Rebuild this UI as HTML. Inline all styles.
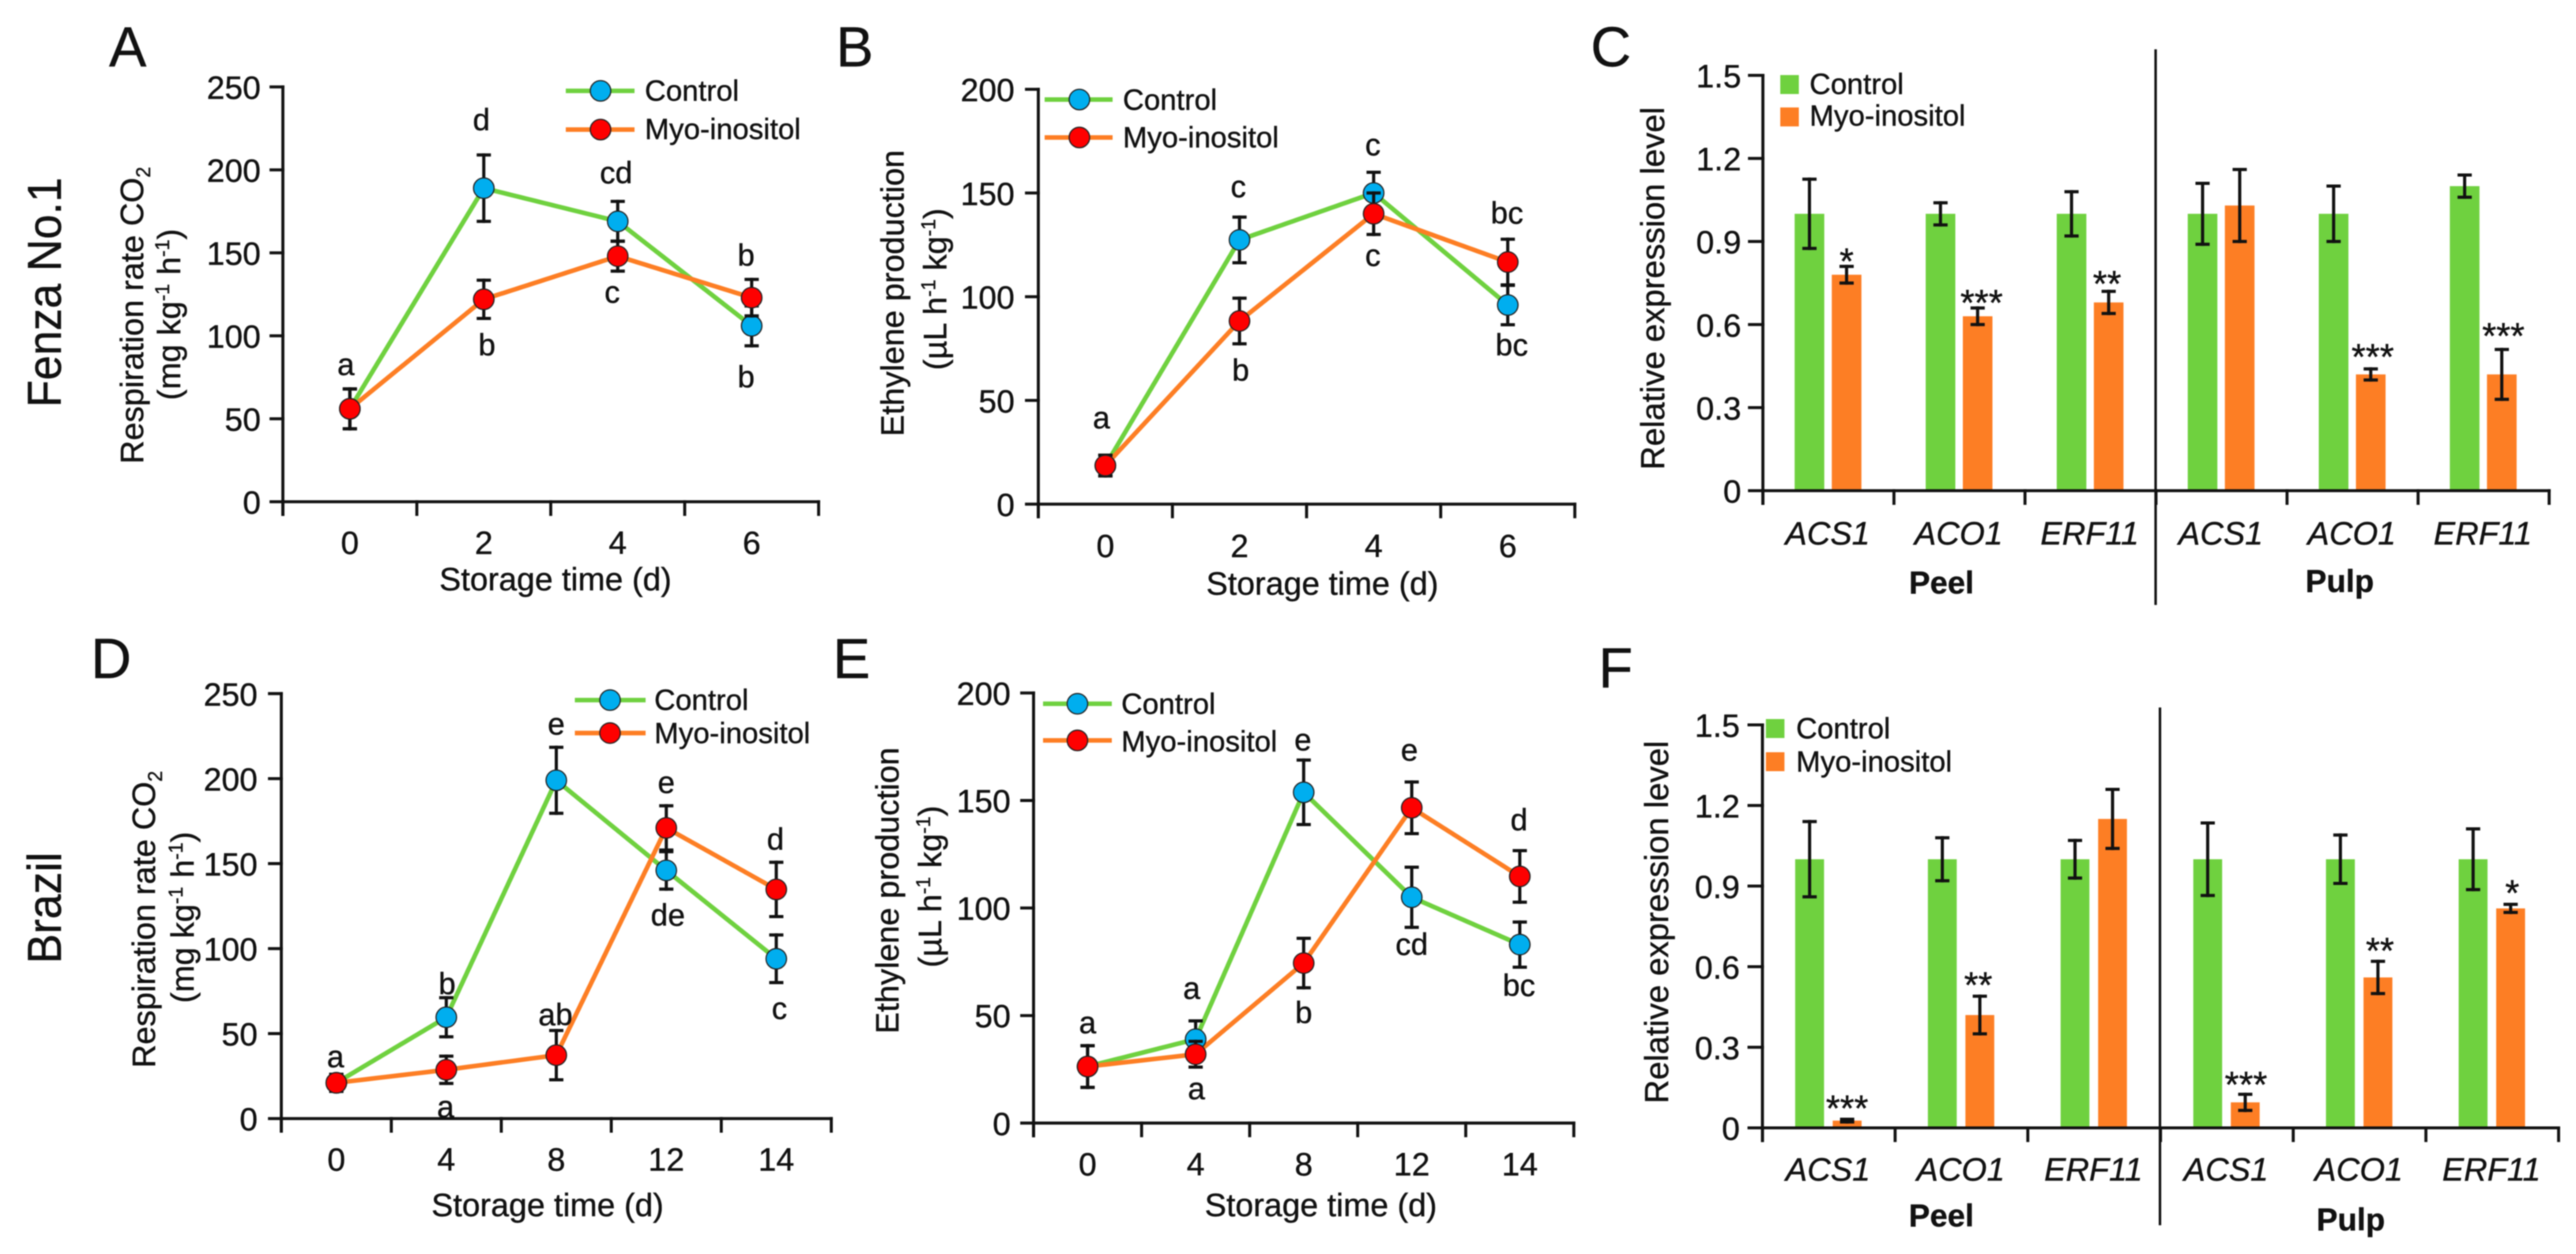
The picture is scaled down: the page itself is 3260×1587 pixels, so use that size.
<!DOCTYPE html>
<html lang="en">
<head>
<meta charset="utf-8">
<title>Respiration, ethylene production and gene expression charts</title>
<style>
html,body{margin:0;padding:0;background:#fff;width:3260px;height:1587px;overflow:hidden}
svg{display:block;filter:blur(0.8px)}
text{font-family:"Liberation Sans",Arial,sans-serif;fill:#111;stroke:#111;stroke-width:.45px}
</style>
</head>
<body>
<svg id="figure" xmlns="http://www.w3.org/2000/svg" width="3260" height="1587" viewBox="0 0 3260 1587"></svg>
<script>
/* ---------- Panel A data ---------- */
const categoriesA = ['0','2','4','6'];
const yTicksA = [0,50,100,150,200,250];
const controlA = [56,189,169,106];
const controlErrA = [12,20,12,12];
const myoA = [56,122,148,123];
const myoErrA = [12,11.5,9,11];
/* ---------- Panel B data ---------- */
const categoriesB = ['0','2','4','6'];
const yTicksB = [0,50,100,150,200];
const controlB = [18.6,127.4,150,96];
const controlErrB = [5,11,10,9.5];
const myoB = [18.6,88.3,140,116.7];
const myoErrB = [5,11,10,11];
/* ---------- Panel C data ---------- */
const genesC = ['ACS1','ACO1','ERF11','ACS1','ACO1','ERF11'];
const yTicksC = ['0','0.3','0.6','0.9','1.2','1.5'];
const controlC = [1.0,1.0,1.0,1.0,1.0,1.1];
const controlErrC = [0.125,0.04,0.08,0.11,0.10,0.04];
const myoC = [0.78,0.63,0.68,1.03,0.42,0.42];
const myoErrC = [0.03,0.03,0.04,0.13,0.02,0.09];
/* ---------- Panel D data ---------- */
const categoriesD = ['0','4','8','12','14'];
const yTicksD = [0,50,100,150,200,250];
const controlD = [21,59.6,199,146,94];
const controlErrD = [5,11.5,19.4,11,14];
const myoD = [21,28.7,37.3,171,134.8];
const myoErrD = [5,8,14.5,13,16];
/* ---------- Panel E data ---------- */
const categoriesE = ['0','4','8','12','14'];
const yTicksE = [0,50,100,150,200];
const controlE = [26.3,39,153.8,105,83];
const controlErrE = [9.7,8.5,15,14,10.5];
const myoE = [26.3,32,74.4,146.6,114.7];
const myoErrE = [9.7,6,11.5,12,12];
/* ---------- Panel F data ---------- */
const genesF = ['ACS1','ACO1','ERF11','ACS1','ACO1','ERF11'];
const yTicksF = ['0','0.3','0.6','0.9','1.2','1.5'];
const controlF = [1.0,1.0,1.0,1.0,1.0,1.0];
const controlErrF = [0.14,0.08,0.07,0.135,0.09,0.113];
const myoF = [0.027,0.42,1.15,0.095,0.56,0.817];
const myoErrF = [0.005,0.07,0.11,0.03,0.06,0.015];

const NS = 'http://www.w3.org/2000/svg';
const GREEN = '#6fd13f', ORANGE = '#fd7e24', BLUE = '#00aeef', RED = '#fe0000', INK = '#111';
const root = document.getElementById('figure');

function make(parent, tag, props) {
  const e = document.createElementNS(NS, tag);
  for (const k in props) e.setAttribute(k, props[k]);
  parent.appendChild(e);
  return e;
}
function seg(parent, x1, y1, x2, y2, color, w) {
  return make(parent, 'line', {x1, y1, x2, y2, stroke: color, 'stroke-width': w, 'stroke-linecap': 'square'});
}
function label(parent, x, y, str, size, anchor, extra) {
  const t = make(parent, 'text', Object.assign({x, y, 'font-size': size, 'text-anchor': anchor}, extra || {}));
  t.textContent = str;
  return t;
}
/* parts: plain strings, or {sub:'2'} / {sup:'-1'} */
function richLabel(parent, px, py, parts, size) {
  const t = make(parent, 'text', {transform: 'translate(' + px + ' ' + py + ') rotate(-90)', 'font-size': size, 'text-anchor': 'middle'});
  let back = 0;
  parts.forEach(function (p) {
    const s = document.createElementNS(NS, 'tspan');
    if (typeof p === 'string') {
      s.textContent = p;
      if (back) s.setAttribute('dy', back);
      back = 0;
    } else {
      const shift = p.sub ? 9 : -14;
      s.textContent = p.sub || p.sup;
      s.setAttribute('font-size', size * 0.6);
      s.setAttribute('dy', shift + back);
      back = -shift;
    }
    t.appendChild(s);
  });
  return t;
}
function panelLetter(parent, str, x, y) {
  const t = label(parent, x, y, str, 71, 'start');
  
  
}
function errorBar(parent, x, yTop, yBot, cap, w) {
  const g = make(parent, 'g', {});
  seg(g, x, yTop, x, yBot, INK, w);
  seg(g, x - cap, yTop, x + cap, yTop, INK, w);
  seg(g, x - cap, yBot, x + cap, yBot, INK, w);
  return g;
}
function axes(parent, f, tickLabels, yRight, tickLen) {
  const ax = make(parent, 'g', {});
  
  
  const yLine = seg(ax, f.x0, f.yT, f.x0, f.y0 + 16, INK, 3.8);
  
  
  const xLine = seg(ax, f.x0, f.y0, f.x1, f.y0, INK, 3.8);
  
  
  const n = tickLabels.length - 1;
  tickLabels.forEach(function (lab, i) {
    const y = f.y0 - (f.y0 - f.yT) * i / n;
    const tick = seg(ax, f.x0 - tickLen, y, f.x0, y, INK, 3.8);
    
    
    const tl = label(ax, yRight, y + 15, String(lab), 41, 'end');
    
    
  });
  return ax;
}
function xTicks(ax, f, count) {
  for (let i = 0; i <= count; i++) {
    const x = f.x0 + (f.x1 - f.x0) * i / count;
    const tick = seg(ax, x, f.y0, x, f.y0 + 16, INK, 3.8);
    
    
  }
}

function linePanel(id, f, cats, yTicks, control, controlErr, myo, myoErr, t) {
  const g = make(root, 'g', {});
  
  
  const yMax = yTicks[yTicks.length - 1];
  const sx = function (i) { return f.x0 + (i + 0.5) * (f.x1 - f.x0) / cats.length; };
  const sy = function (v) { return f.y0 - v * (f.y0 - f.yT) / yMax; };

  const ax = axes(g, f, yTicks, t.yRight, 15);
  xTicks(ax, f, cats.length);
  cats.forEach(function (c, i) {
    const tl = label(ax, sx(i), t.xBase, c, 41, 'middle');
    
    
  });
  const xTitle = label(g, t.xTitleX, t.xTitleY, 'Storage time (d)', 41, 'middle');
  
  
  const yt1 = richLabel(g, t.y1x, t.y1y, t.title1, 41);
  
  
  const yt2 = richLabel(g, t.y2x, t.y2y, t.title2, 41);
  
  

  const path = function (vals) {
    return vals.map(function (v, i) { return sx(i) + ',' + sy(v); }).join(' ');
  };
  const lc = make(g, 'polyline', {points: path(control), fill: 'none', stroke: GREEN, 'stroke-width': 5.8, 'stroke-linejoin': 'round'});
  
  
  const lm = make(g, 'polyline', {points: path(myo), fill: 'none', stroke: ORANGE, 'stroke-width': 5.8, 'stroke-linejoin': 'round'});
  
  

  control.forEach(function (v, i) {
    const eb = errorBar(g, sx(i), sy(v + controlErr[i]), sy(v - controlErr[i]), 7, 4);
    
    
    const pt = make(g, 'circle', {cx: sx(i), cy: sy(v), r: 13, fill: BLUE, stroke: '#222', 'stroke-width': 1.5});
    
    
  });
  myo.forEach(function (v, i) {
    const eb = errorBar(g, sx(i), sy(v + myoErr[i]), sy(v - myoErr[i]), 7, 4);
    
    
    const pt = make(g, 'circle', {cx: sx(i), cy: sy(v), r: 13, fill: RED, stroke: '#222', 'stroke-width': 1.5});
    
    
  });

  const L = t.legend;
  [['Control', GREEN, BLUE, L.y1, L.b1], ['Myo-inositol', ORANGE, RED, L.y2, L.b2]].forEach(function (r) {
    const lg = make(g, 'g', {});
    
    
    seg(lg, L.x0, r[3], L.x1, r[3], r[1], 5.8).setAttribute('stroke-linecap', 'butt');
    make(lg, 'circle', {cx: L.mx, cy: r[3], r: 13, fill: r[2], stroke: '#222', 'stroke-width': 1.5});
    label(lg, L.tx, r[4], r[0], 37, 'start');
  });

  /* significance letters anchored to their data point */
  t.letters.forEach(function (a) {
    const vals = a[0] === 'c' ? control : myo;
    const lt = label(g, sx(a[1]) + a[3], sy(vals[a[1]]) + a[4], a[2], 39, 'middle');
    
    
  });
}

function barPanel(id, f, genes, yTicks, control, controlErr, myo, myoErr, t) {
  const g = make(root, 'g', {});
  
  
  const yMax = parseFloat(yTicks[yTicks.length - 1]);
  const step = (f.x1 - f.x0) / genes.length;
  const sy = function (v) { return f.y0 - v * (f.y0 - f.yT) / yMax; };
  const bw = t.barW, gap = t.gap;
  const cx = function (i) { return f.x0 + (i + 0.5) * step; };
  const gx = function (i) { return cx(i) - gap / 2 - bw / 2 - 0.5; };
  const mx = function (i) { return cx(i) + gap / 2 + bw / 2 - 0.5; };

  genes.forEach(function (name, i) {
    const b1 = make(g, 'rect', {x: gx(i) - bw / 2, y: sy(control[i]), width: bw, height: f.y0 - sy(control[i]), fill: GREEN});
    
    
    const b2 = make(g, 'rect', {x: mx(i) - bw / 2, y: sy(myo[i]), width: bw, height: f.y0 - sy(myo[i]), fill: ORANGE});
    
    
  });
  const ax = axes(g, f, yTicks, t.yRight, 17);
  xTicks(ax, f, genes.length);
  genes.forEach(function (name, i) {
    const tl = label(ax, cx(i) - 1, t.xBase, name, 41, 'middle', {'font-style': 'italic'});
    
    
  });
  genes.forEach(function (name, i) {
    const e1 = errorBar(g, gx(i), sy(control[i] + controlErr[i]), sy(control[i] - controlErr[i]), 7, 4);
    
    
    const e2 = errorBar(g, mx(i), sy(myo[i] + myoErr[i]), sy(myo[i] - myoErr[i]), 7, 4);
    
    
  });
  t.stars.forEach(function (s) {
    const i = s[0];
    const st = label(g, mx(i) + s[2], sy(myo[i] + myoErr[i]) + s[3], s[1], 46, 'middle');
    
    
  });
  const div = seg(g, t.div, t.divTop, t.div, t.divBot, INK, 3.2);
  
  
  const yt = richLabel(g, t.titleX, t.titleY, ['Relative expression level'], 41.5);
  
  
  const pe = label(g, t.peelX, t.peelY, 'Peel', 40, 'middle', {'font-weight': 'bold'});
  
  
  const pu = label(g, t.pulpX, t.pulpY, 'Pulp', 40, 'middle', {'font-weight': 'bold'});
  
  
  const L = t.legend;
  [['Control', GREEN, L.y1, L.b1], ['Myo-inositol', ORANGE, L.y2, L.b2]].forEach(function (r) {
    const lg = make(g, 'g', {});
    
    
    make(lg, 'rect', {x: L.x, y: r[2], width: 23.5, height: 24, fill: r[1]});
    label(lg, L.tx, r[3], r[0], 37, 'start');
  });
}

/* ---------- panel letters and row labels ---------- */
panelLetter(root, 'A', 138, 84);
panelLetter(root, 'B', 1058, 84);
panelLetter(root, 'C', 2013, 84);
panelLetter(root, 'D', 115, 858);
panelLetter(root, 'E', 1054, 858);
panelLetter(root, 'F', 2023, 870);
const row1 = richLabel(root, 77, 370, ['Fenza No.1'], 60.5);
row1.setAttribute('textLength', '291');
row1.setAttribute('lengthAdjust', 'spacingAndGlyphs');


const row2 = richLabel(root, 77, 1149, ['Brazil'], 60.5);
row2.setAttribute('textLength', '141');
row2.setAttribute('lengthAdjust', 'spacingAndGlyphs');



const respTitle = ['Respiration rate CO', {sub: '2'}];
const respUnit = ['(mg kg', {sup: '-1'}, ' h', {sup: '-1'}, ')'];
const ethTitle = ['Ethylene production'];
const ethUnit = ['(\u00b5L h', {sup: '-1'}, ' kg', {sup: '-1'}, ')'];

linePanel('a', {x0: 358, x1: 1036, y0: 635, yT: 110}, categoriesA, yTicksA, controlA, controlErrA, myoA, myoErrA, {
  yRight: 330, xBase: 701, xTitleX: 703, xTitleY: 747,
  y1x: 181, y1y: 399, title1: respTitle, y2x: 228, y2y: 398, title2: respUnit,
  legend: {x0: 716, x1: 803, mx: 760, tx: 816, y1: 115, b1: 127.5, y2: 164, b2: 176},
  letters: [['c',0,'a',-5,-43],['c',1,'d',-3,-73],['c',2,'cd',-2,-48],['m',3,'b',-7,-40],['m',1,'b',4,71],['m',2,'c',-7,59],['c',3,'b',-7,78]]
});
linePanel('b', {x0: 1314, x1: 1993, y0: 638, yT: 113}, categoriesB, yTicksB, controlB, controlErrB, myoB, myoErrB, {
  yRight: 1284, xBase: 705, xTitleX: 1673.5, xTitleY: 752.5,
  y1x: 1143.5, y1y: 371, title1: ethTitle, y2x: 1197.5, y2y: 366, title2: ethUnit,
  legend: {x0: 1322, x1: 1408, mx: 1366, tx: 1421, y1: 126, b1: 138.8, y2: 174, b2: 186.7},
  letters: [['c',0,'a',-5,-47],['c',1,'c',-1.5,-54],['m',1,'b',1.5,76],['c',2,'c',-1,-48],['m',2,'c',-1,66],['m',3,'bc',-1,-48.7],['c',3,'bc',5,64]]
});
linePanel('d', {x0: 356, x1: 1052, y0: 1415.6, yT: 877.8}, categoriesD, yTicksD, controlD, controlErrD, myoD, myoErrD, {
  yRight: 326, xBase: 1481.5, xTitleX: 693, xTitleY: 1539,
  y1x: 196, y1y: 1163.5, title1: respTitle, y2x: 245, y2y: 1161, title2: respUnit,
  legend: {x0: 727.5, x1: 817, mx: 772, tx: 828, y1: 886, b1: 898.4, y2: 927.7, b2: 940.6},
  letters: [['c',0,'a',-1,-20],['c',1,'b',1,-29],['m',1,'a',-1,60],['c',2,'e',0,-58],['m',2,'ab',-1,-38],['m',3,'e',0,-44],['c',3,'de',2,70],['m',4,'d',-1,-50],['c',4,'c',4,76]]
});
linePanel('e', {x0: 1308, x1: 1991.7, y0: 1421.3, yT: 877}, categoriesE, yTicksE, controlE, controlErrE, myoE, myoErrE, {
  yRight: 1279, xBase: 1487.7, xTitleX: 1671.6, xTitleY: 1539,
  y1x: 1137, y1y: 1127, title1: ethTitle, y2x: 1191, y2y: 1122, title2: ethUnit,
  legend: {x0: 1320, x1: 1407, mx: 1363.5, tx: 1419, y1: 890.6, b1: 903.5, y2: 937, b2: 951},
  letters: [['c',0,'a',0,-42],['c',1,'a',-5,-51],['m',1,'a',1,57],['c',2,'e',-1,-53],['m',2,'b',0,76],['m',3,'e',-3,-60],['c',3,'cd',0,73],['m',4,'d',-1,-58],['c',4,'bc',-1,65]]
});
barPanel('c', {x0: 2231, x1: 3226, y0: 621, yT: 95.4}, genesC, yTicksC, controlC, controlErrC, myoC, myoErrC, {
  yRight: 2203.5, xBase: 689, barW: 37.5, gap: 9.5,
  div: 2728, divTop: 64, divBot: 764, titleX: 2106, titleY: 365,
  peelX: 2457, peelY: 751, pulpX: 2961, pulpY: 749,
  legend: {x: 2253, tx: 2290, y1: 95, b1: 119, y2: 136, b2: 159},
  stars: [[0,'*',0,9.5],[1,'***',5,9.5],[2,'**',-2,6.5],[4,'***',2.5,0.5],[5,'***',2,-1.5]]
});
barPanel('f', {x0: 2230.4, x1: 3238, y0: 1427.4, yT: 917.4}, genesF, yTicksF, controlF, controlErrF, myoF, myoErrF, {
  yRight: 2201.8, xBase: 1494, barW: 36.5, gap: 11,
  div: 2733.5, divTop: 897, divBot: 1549, titleX: 2110.8, titleY: 1167,
  peelX: 2456.8, peelY: 1552, pulpX: 2975, pulpY: 1557,
  legend: {x: 2234.8, tx: 2273, y1: 910, b1: 934.4, y2: 952, b2: 976.6},
  stars: [[0,'***',0,2],[1,'**',-2,1.7],[3,'***',1,3.5],[4,'**',2.5,2.5],[5,'*',2,1.5]]
});
</script>
</body>
</html>
